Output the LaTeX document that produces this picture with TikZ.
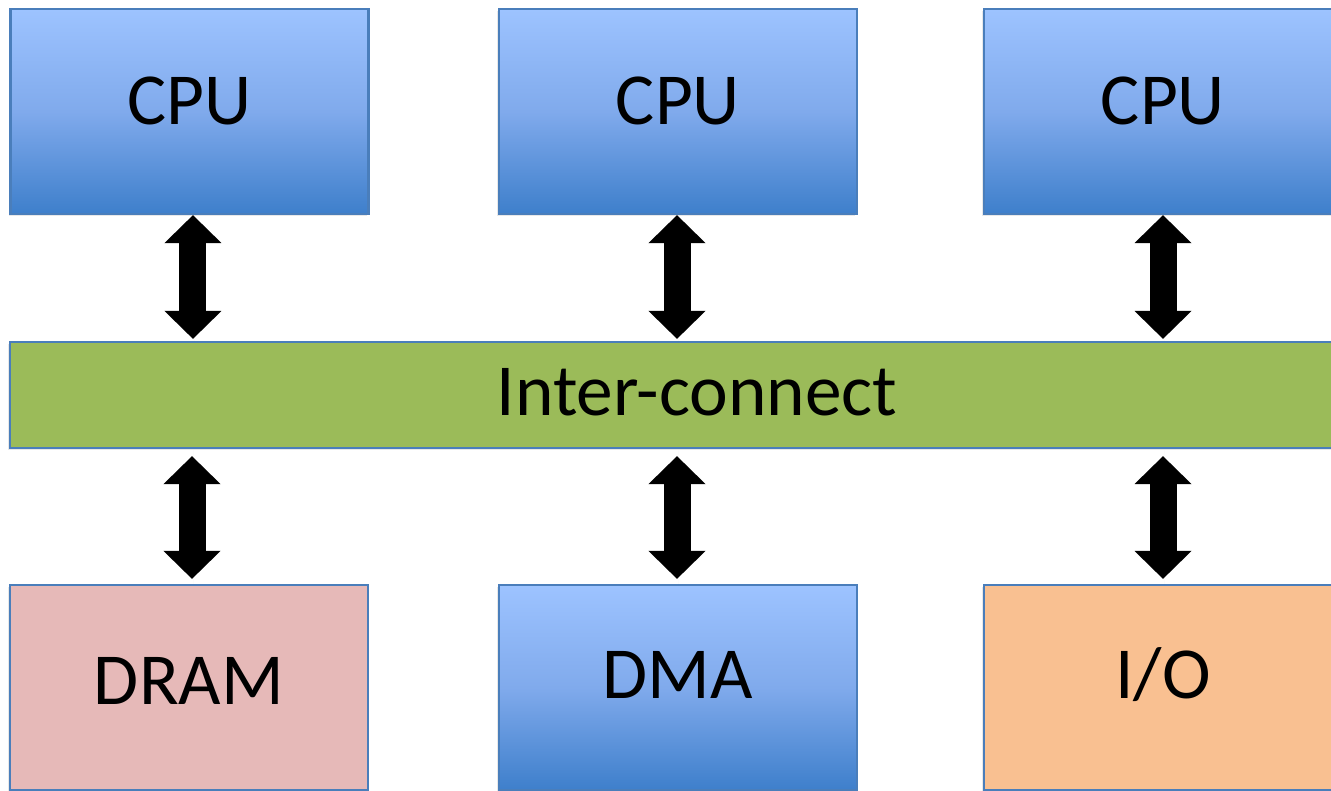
\documentclass[tikz,border=0pt]{standalone}
\usepackage{fontspec}
\setmainfont{Carlito}
\usetikzlibrary{arrows.meta,shadows}

\definecolor{boxline}{HTML}{4A7EBB}
\definecolor{cputop}{HTML}{9DC3FF}
\definecolor{cpumid}{HTML}{80AAEC}
\definecolor{cpubot}{HTML}{3E7FCB}
\definecolor{busgreen}{HTML}{9BBB59}
\definecolor{drampink}{HTML}{E6B9B8}
\definecolor{ioorange}{HTML}{F9C091}

\begin{document}
\begin{tikzpicture}[x=0.75pt,y=-0.75pt,
  unit/.style={draw=boxline,line width=1.6pt,inner sep=0pt,
    minimum width=268.5pt,minimum height=153.75pt,
    font=\fontsize{55}{58}\selectfont,text height=35pt,
    drop shadow={opacity=0.18,shadow xshift=-1.5pt,shadow yshift=-1.5pt}},
  bluebox/.style={unit,top color=cputop,bottom color=cpubot,middle color=cpumid},
  bus/.style={unit,fill=busgreen,minimum width=1030.5pt,minimum height=79.5pt,text depth=3.75pt},
  link/.style={{Triangle[length=21pt,width=41.5pt]}-{Triangle[length=21pt,width=41.5pt]},
    line width=20.25pt,black,
    drop shadow={opacity=0.18,shadow xshift=1pt,shadow yshift=-1pt}},
]

\useasboundingbox (0,0) rectangle (1331,790);
\clip (0,0) rectangle (1331,790);
\fill[white] (0,0) rectangle (1331,790);

% Node: CPUs
\node[bluebox,text depth=15pt] (cpu1) at (189.5,111.5) {CPU};
\node[bluebox,text depth=15pt] (cpu2) at (678,111.5) {CPU};
\node[bluebox,text depth=15pt] (cpu3) at (1163,111.5) {CPU};

% Node: Inter-connect
\node[bus] (ic) at (697,395) {Inter-connect};

% Node: DRAM, DMA, I/O
\node[unit,fill=drampink,text depth=9.75pt] (dram) at (189,687.5) {DRAM};
\node[bluebox,text depth=18.75pt] (dma) at (678,687.5) {DMA};
\node[unit,fill=ioorange,text depth=18pt] (io) at (1163,687.5) {I/O};

% Edge: CPU <-> Inter-connect
\draw[link,shorten >=1.5pt] ([xshift=2.6pt]cpu1.south) -- ([xshift=2.6pt]cpu1.south |- ic.north);
\draw[link,shorten >=1.5pt] ([xshift=-0.75pt]cpu2.south) -- ([xshift=-0.75pt]cpu2.south |- ic.north);
\draw[link,shorten >=1.5pt] (cpu3.south) -- (cpu3.south |- ic.north);

% Edge: Inter-connect <-> DRAM, DMA, I/O
\draw[link,shorten <=5.25pt,shorten >=3.75pt] ([xshift=2.25pt]dram.north |- ic.south) -- ([xshift=2.25pt]dram.north);
\draw[link,shorten <=5.25pt,shorten >=3.75pt] ([xshift=-0.75pt]dma.north |- ic.south) -- ([xshift=-0.75pt]dma.north);
\draw[link,shorten <=5.25pt,shorten >=3.75pt] (io.north |- ic.south) -- (io.north);

\end{tikzpicture}
\end{document}
